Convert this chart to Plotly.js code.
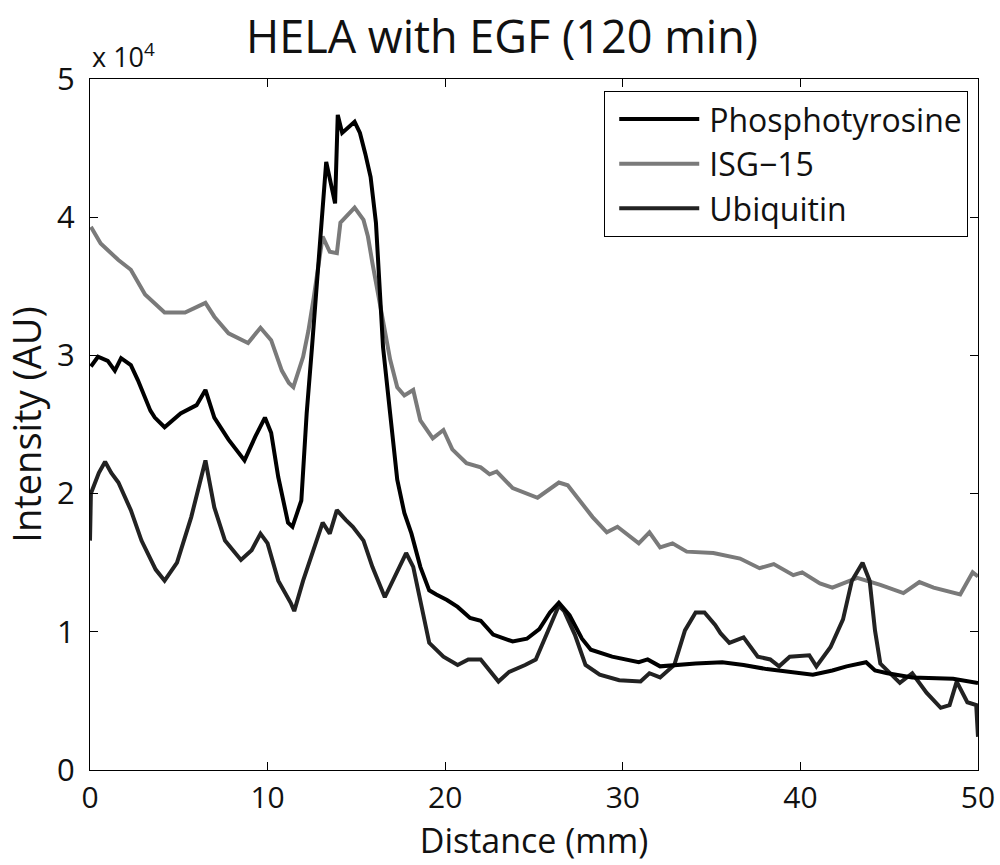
<!DOCTYPE html>
<html>
<head>
<meta charset="utf-8">
<script src="https://cdn.plot.ly/plotly-3.0.1.min.js"></script>
<style>html,body{margin:0;padding:0;background:#fff;}#chart{width:1000px;height:865px;}</style>
</head>
<body>
<div id="chart"></div>
<script>
// Distance (mm) and intensity (x 10^4 AU)
var phosX = [0.05,0.45,1.0,1.4,1.75,2.3,2.7,3.1,3.4,3.65,4.2,5.1,6.0,6.5,7.0,7.8,8.7,9.3,9.85,10.2,10.6,11.15,11.4,11.9,12.2,12.5,12.8,13.3,13.55,13.8,13.95,14.2,14.9,15.2,15.5,15.8,16.1,16.3,16.5,16.9,17.3,17.7,18.1,18.6,19.1,19.5,20.1,20.7,21.4,22.0,22.7,23.8,24.6,25.3,25.9,26.4,27.0,27.7,28.2,29.4,30.9,31.4,32.1,34.1,35.6,36.8,38.1,40.7,41.8,42.6,43.7,44.2,44.9,46.3,48.6,50.0];
var phosY = [2.92,2.99,2.96,2.89,2.98,2.93,2.82,2.70,2.60,2.55,2.48,2.58,2.64,2.75,2.55,2.39,2.24,2.41,2.55,2.44,2.12,1.79,1.76,1.95,2.58,3.06,3.55,4.40,4.25,4.10,4.74,4.61,4.69,4.61,4.46,4.29,3.96,3.55,3.06,2.58,2.10,1.86,1.71,1.47,1.30,1.27,1.23,1.18,1.10,1.08,0.98,0.93,0.95,1.02,1.14,1.21,1.12,0.95,0.87,0.82,0.78,0.80,0.75,0.77,0.78,0.76,0.73,0.69,0.72,0.75,0.78,0.72,0.70,0.67,0.66,0.63];

var isgX = [0.05,0.6,1.6,2.3,3.1,4.2,5.35,6.5,7.0,7.8,8.9,9.6,10.2,10.8,11.2,11.45,12.0,12.3,12.6,13.1,13.5,13.9,14.1,14.4,14.9,15.4,15.65,15.9,16.5,16.9,17.3,17.7,18.2,18.6,19.3,19.9,20.4,21.2,22.0,22.5,22.9,23.8,25.2,26.4,26.9,27.6,28.3,29.1,29.7,30.9,31.5,32.1,32.8,33.6,35.1,36.6,37.7,38.5,39.6,40.1,41.1,41.8,43.2,44.5,45.8,46.7,47.5,49.0,49.7,50.0];
var isgY = [3.93,3.81,3.69,3.62,3.44,3.31,3.31,3.38,3.28,3.16,3.09,3.20,3.11,2.89,2.80,2.77,2.99,3.18,3.42,3.86,3.75,3.74,3.96,4.00,4.07,3.98,3.86,3.67,3.23,2.97,2.77,2.71,2.75,2.53,2.40,2.46,2.32,2.22,2.19,2.14,2.16,2.04,1.97,2.08,2.06,1.95,1.83,1.72,1.76,1.64,1.72,1.61,1.64,1.58,1.57,1.53,1.46,1.49,1.41,1.43,1.35,1.32,1.39,1.34,1.28,1.36,1.32,1.27,1.43,1.40];

var ubqX = [0.0,0.05,0.5,0.85,1.2,1.6,2.3,2.9,3.7,4.2,4.9,5.7,6.5,7.0,7.6,8.5,9.1,9.6,10.0,10.6,11.3,11.5,12.0,12.6,13.1,13.5,13.9,14.4,14.8,15.4,15.9,16.6,17.3,17.8,18.2,18.7,19.1,19.9,20.7,21.3,22.0,23.0,23.6,24.5,25.1,25.8,26.4,26.7,27.3,27.9,28.7,29.8,31.0,31.5,32.1,32.9,33.5,34.1,34.6,35.2,35.5,36.0,36.8,37.6,38.3,38.8,39.4,40.5,40.9,41.7,42.4,42.9,43.5,43.9,44.2,44.5,45.6,46.3,47.1,47.9,48.4,48.8,49.4,49.9,50.0];
var ubqY = [1.66,2.00,2.15,2.23,2.15,2.08,1.88,1.66,1.45,1.37,1.50,1.83,2.24,1.90,1.66,1.52,1.59,1.71,1.64,1.37,1.21,1.15,1.37,1.61,1.79,1.71,1.88,1.81,1.76,1.66,1.47,1.25,1.43,1.57,1.47,1.16,0.92,0.82,0.76,0.80,0.80,0.64,0.71,0.76,0.80,1.01,1.19,1.15,0.98,0.76,0.69,0.65,0.64,0.70,0.67,0.76,1.01,1.14,1.14,1.05,0.99,0.92,0.96,0.82,0.80,0.75,0.82,0.83,0.75,0.89,1.09,1.37,1.50,1.37,1.01,0.77,0.63,0.70,0.56,0.45,0.47,0.64,0.49,0.47,0.24];

var yTickVals = [0,1,2,3,4,5];
var yTickText = ['0','1','2','3','4','5'];
var xTickVals = [0,10,20,30,40,50];

function scale(a){ return a.map(function(v){ return v*1e4; }); }

var FONT = '"Open Sans", "Noto Sans", sans-serif';

var traces = [
  {x: isgX, y: scale(isgY), name: 'ISG\u221215', mode: 'lines', line: {color: '#7a7a7a', width: 4}, legendrank: 2, legendgroup: 'b'},
  {x: ubqX, y: scale(ubqY), name: 'Ubiquitin', mode: 'lines', line: {color: '#222222', width: 4}, legendrank: 3, legendgroup: 'c'},
  {x: phosX, y: scale(phosY), name: 'Phosphotyrosine', mode: 'lines', line: {color: '#000000', width: 4}, legendrank: 1, legendgroup: 'a'}
];

var layout = {
  width: 1000, height: 865,
  margin: {l: 90, r: 22, t: 79, b: 95},
  paper_bgcolor: '#fff', plot_bgcolor: '#fff',
  font: {family: FONT, color: '#111'},
  title: {text: 'HELA with EGF (120 min)', font: {size: 45, family: FONT, color: '#111'}, xref: 'container', x: 0.502, xanchor: 'center', yref: 'container', y: 0.957, yanchor: 'middle'},
  xaxis: {
    range: [0, 50], tickvals: xTickVals, ticks: 'inside', ticklen: 8, tickcolor: '#000',
    showline: true, linecolor: '#000', linewidth: 1, mirror: 'ticks', showgrid: false, zeroline: false,
    tickfont: {size: 30, family: FONT, color: '#111'}, ticklabelstandoff: 1,
    title: {text: 'Distance (mm)', font: {size: 34, family: FONT, color: '#111'}, standoff: 4}
  },
  yaxis: {
    range: [0, 50000], tickvals: scale(yTickVals), ticktext: yTickText, ticks: 'inside', ticklen: 8, tickcolor: '#000',
    showline: true, linecolor: '#000', linewidth: 1, mirror: 'ticks', showgrid: false, zeroline: false,
    tickfont: {size: 31, family: FONT, color: '#111'}, ticklabelstandoff: 8,
    title: {text: 'Intensity (AU)', font: {size: 38, family: FONT, color: '#111'}, standoff: 4}
  },
  legend: {
    x: 0.989, xanchor: 'right', y: 0.983, yanchor: 'top',
    bgcolor: '#fff', bordercolor: '#000', borderwidth: 1,
    font: {size: 32, family: FONT, color: '#111'},
    itemwidth: 94,
    tracegroupgap: 0, traceorder: 'grouped'
  },
  annotations: [{
    xref: 'paper', yref: 'paper', x: 0.0, y: 1.0, xanchor: 'left', yanchor: 'bottom', yshift: 2,
    text: 'x 10<sup>4</sup>', showarrow: false, font: {size: 27, family: FONT, color: '#111'}
  }]
};

Plotly.newPlot('chart', traces, layout, {displayModeBar: false, staticPlot: true}).then(function(gd){
  // lengthen the legend line samples to match the reference legend style
  var paths = gd.querySelectorAll('.legend .legendlines path');
  paths.forEach(function(p){ p.setAttribute('d', 'M14,0h80'); });
});
</script>
</body>
</html>
